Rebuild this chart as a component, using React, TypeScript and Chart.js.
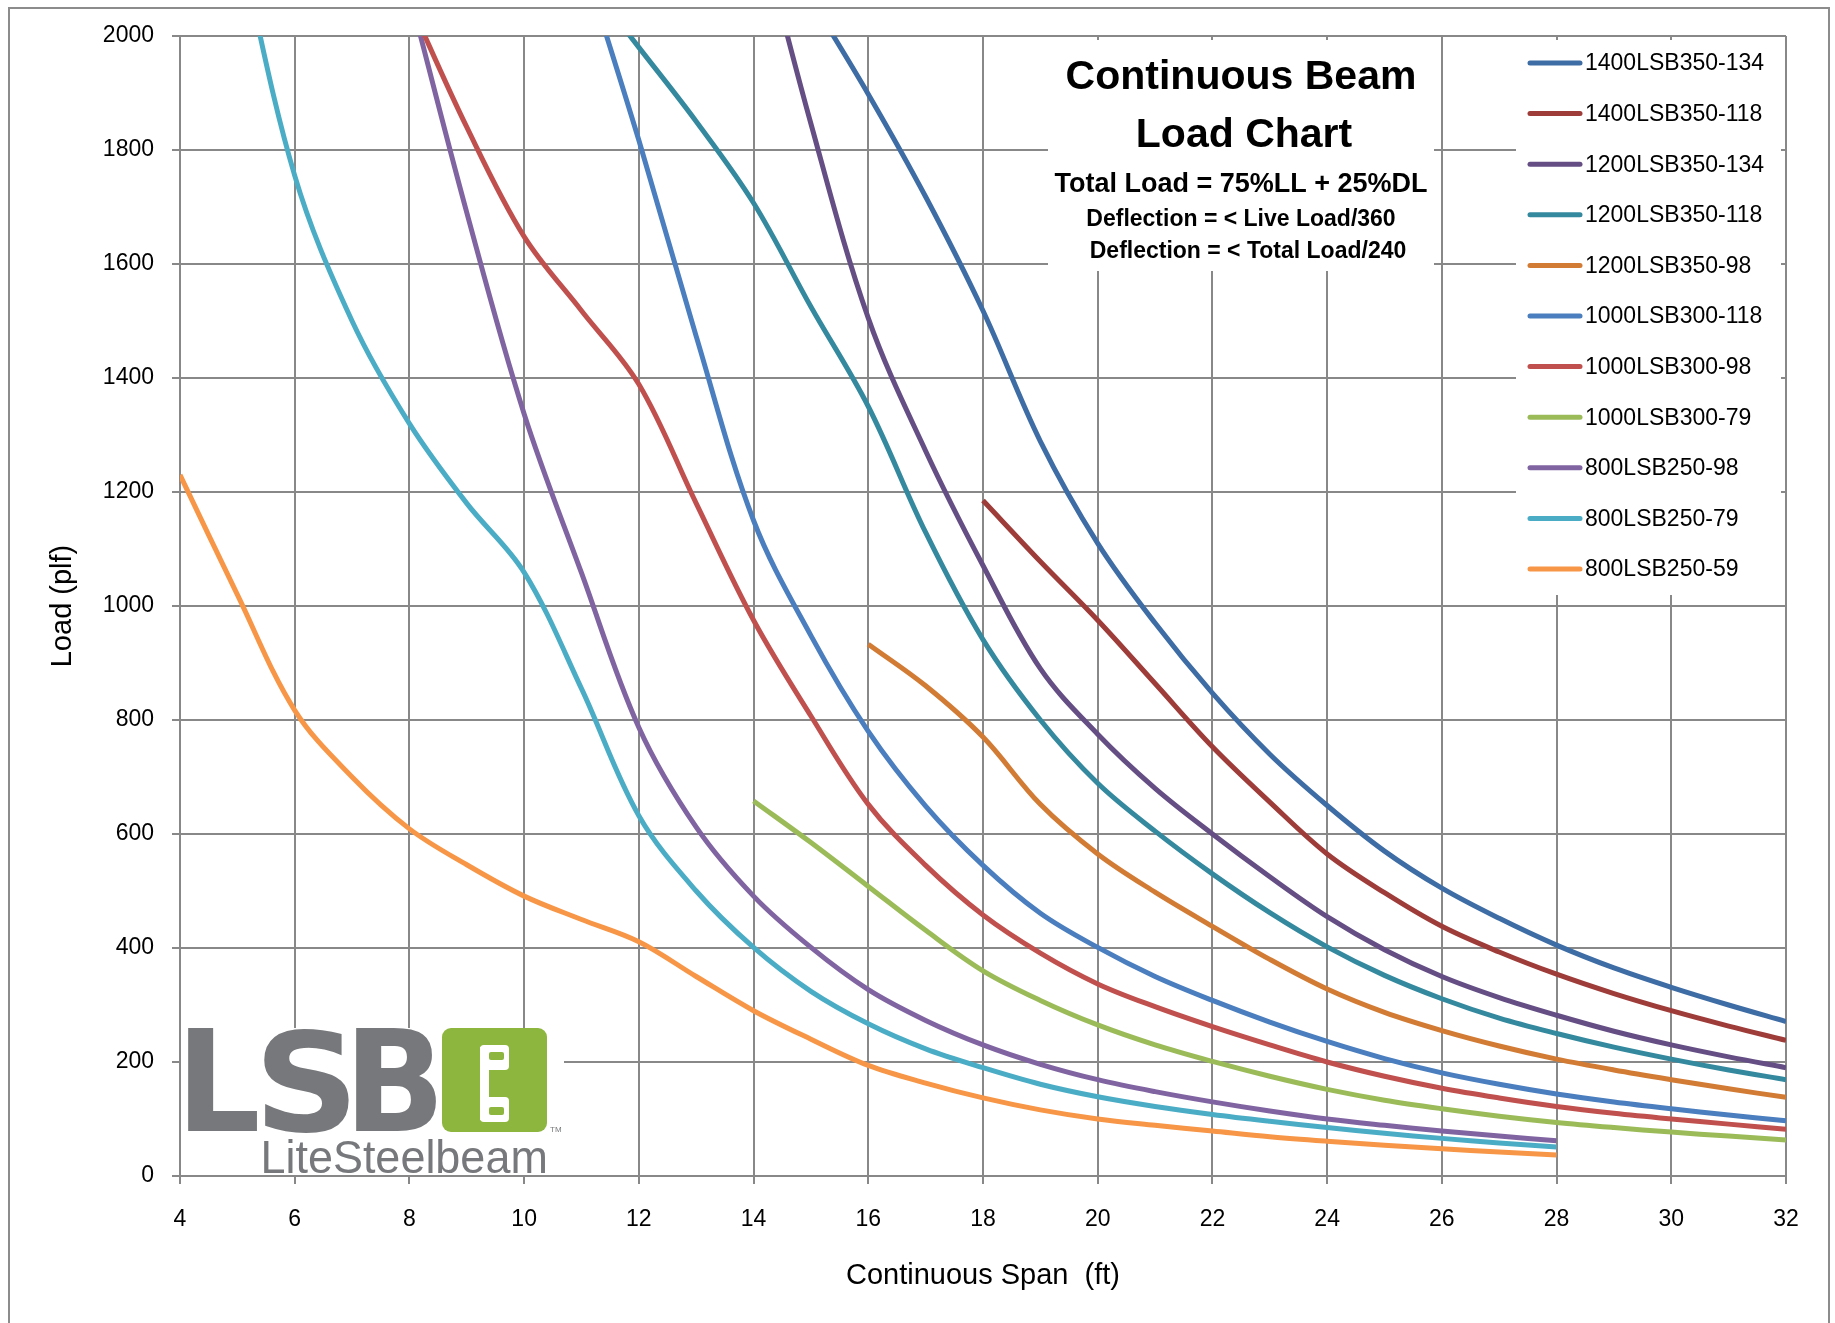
import React, { useEffect, useRef } from "react";
import { Chart, registerables } from "chart.js";

Chart.register(...registerables);

const W = 1835;
const H = 1323;
const FONT = '"Liberation Sans", Arial, sans-serif';
const GRID = "#888888";

// ---- data ----
const seriesNames = [
  "1400LSB350-134",
  "1400LSB350-118",
  "1200LSB350-134",
  "1200LSB350-118",
  "1200LSB350-98",
  "1000LSB300-118",
  "1000LSB300-98",
  "1000LSB300-79",
  "800LSB250-98",
  "800LSB250-79",
  "800LSB250-59",
];
const seriesColors = [
  "#3E6CA4",
  "#9E3C39",
  "#644E84",
  "#34899F",
  "#D27B34",
  "#4A7EBE",
  "#C0504D",
  "#9BBB59",
  "#8064A2",
  "#4BACC6",
  "#F79646",
];
// first span (ft) of each series
const seriesStart = [15, 18, 14, 11, 16, 11, 8, 14, 8, 5, 4];

const v1400_134 = [2065, 1898, 1718, 1518, 1289, 1110, 970, 847, 740, 650, 570, 505, 452, 405, 365, 331, 300, 271];
const v1400_118 = [1185, 1078, 975, 864, 753, 656, 565, 497, 438, 393, 354, 320, 290, 263, 238];
const v1200_134 = [2230, 1846, 1505, 1272, 1071, 890, 775, 680, 600, 525, 455, 397, 350, 313, 282, 254, 230, 209, 190];
const v1200_118 = [2110, 1980, 1850, 1707, 1525, 1350, 1129, 941, 800, 689, 605, 530, 462, 402, 352, 311, 277, 250, 226, 205, 186, 169];
const v1200_98 = [933, 860, 770, 652, 565, 498, 438, 380, 328, 287, 255, 228, 205, 186, 169, 153, 138];
const v1000_118 = [2140, 1817, 1473, 1150, 948, 780, 649, 545, 461, 401, 350, 308, 270, 236, 206, 181, 161, 144, 130, 118, 107, 97];
const v1000_98 = [2060, 1840, 1648, 1518, 1389, 1180, 975, 807, 652, 545, 458, 391, 337, 297, 262, 230, 200, 175, 154, 137, 122, 110, 100, 91, 82];
const v1000_79 = [658, 585, 508, 431, 360, 308, 265, 230, 201, 175, 152, 133, 118, 105, 94, 85, 77, 70, 63];
const v800_98 = [2075, 1690, 1337, 1058, 787, 612, 491, 401, 327, 273, 230, 196, 169, 148, 130, 114, 100, 89, 79, 70, 62];
const v800_79 = [2180, 1755, 1500, 1320, 1180, 1059, 855, 632, 500, 401, 324, 267, 223, 190, 161, 139, 122, 108, 96, 85, 75, 66, 58, 51];
const v800_59 = [1230, 1020, 817, 700, 609, 546, 491, 450, 411, 350, 290, 240, 194, 163, 137, 116, 100, 89, 79, 69, 61, 54, 48, 42, 37];

const seriesValues = [v1400_134, v1400_118, v1200_134, v1200_118, v1200_98, v1000_118, v1000_98, v1000_79, v800_98, v800_79, v800_59];

const xTicks = [4, 6, 8, 10, 12, 14, 16, 18, 20, 22, 24, 26, 28, 30, 32];
const yTicks = [0, 200, 400, 600, 800, 1000, 1200, 1400, 1600, 1800, 2000];
const xTitle = "Continuous Span  (ft)";
const yTitle = "Load (plf)";
const titleLines = ["Continuous Beam", "Load Chart"];
const subtitleLine = "Total Load = 75%LL + 25%DL";
const noteLines = ["Deflection = < Live Load/360", "Deflection = < Total Load/240"];

function fitText(ctx: CanvasRenderingContext2D, text: string, font: string, x0: number, x1: number, yTop: number, yBase: number) {
  ctx.font = font;
  ctx.textAlign = "left";
  ctx.textBaseline = "alphabetic";
  const m = ctx.measureText(text);
  const h = m.actualBoundingBoxAscent;
  const w = m.actualBoundingBoxLeft + m.actualBoundingBoxRight;
  ctx.save();
  ctx.translate(x0, yBase);
  ctx.scale((x1 - x0) / w, (yBase - yTop) / h);
  ctx.fillText(text, m.actualBoundingBoxLeft, 0);
  ctx.restore();
}

const decorPlugin = {
  id: "decor",
  beforeDraw(chart: any) {
    const ctx: CanvasRenderingContext2D = chart.ctx;
    ctx.save();
    ctx.fillStyle = "#ffffff";
    ctx.fillRect(0, 0, W, H);
    ctx.strokeStyle = "#8c8c8c";
    ctx.lineWidth = 2;
    ctx.strokeRect(9, 8, 1820, 1400);
    ctx.restore();
  },
  beforeDatasetsDraw(chart: any) {
    const ctx: CanvasRenderingContext2D = chart.ctx;
    ctx.save();
    // title box
    ctx.fillStyle = "#ffffff";
    ctx.fillRect(1048, 40, 386, 231);
    ctx.fillStyle = "#000000";
    ctx.textAlign = "center";
    ctx.textBaseline = "middle";
    ctx.font = `bold 41px ${FONT}`;
    ctx.fillText(titleLines[0], 1241, 78);
    ctx.fillText(titleLines[1], 1244, 136);
    ctx.font = `bold 27px ${FONT}`;
    ctx.fillText(subtitleLine, 1241, 185);
    ctx.font = `bold 23px ${FONT}`;
    ctx.fillText(noteLines[0], 1241, 220);
    ctx.fillText(noteLines[1], 1248, 252);

    // legend box
    ctx.fillStyle = "#ffffff";
    ctx.fillRect(1516, 40, 265, 555);
    ctx.textAlign = "left";
    ctx.textBaseline = "middle";
    ctx.font = `23px ${FONT}`;
    ctx.lineCap = "round";
    ctx.lineWidth = 5;
    seriesNames.forEach((name, i) => {
      const y = 63 + i * 50.6;
      ctx.strokeStyle = seriesColors[i];
      ctx.beginPath();
      ctx.moveTo(1530, y);
      ctx.lineTo(1580, y);
      ctx.stroke();
      ctx.fillStyle = "#000000";
      ctx.fillText(name, 1585, y + 1);
    });

    // logo
    ctx.fillStyle = "#ffffff";
    ctx.fillRect(181, 1028, 383, 147);
    const gray = "#77787B";
    const green = "#8DB63E";
    ctx.fillStyle = gray;
    const lf = `bold 100px "DejaVu Sans", ${FONT}`;
    fitText(ctx, "L", lf, 188, 257, 1028, 1131);
    fitText(ctx, "S", lf, 264, 349, 1028, 1131);
    fitText(ctx, "B", lf, 356, 437, 1028, 1131);
    ctx.fillStyle = green;
    ctx.beginPath();
    (ctx as any).roundRect(442, 1028, 105, 104, 9);
    ctx.fill();
    ctx.fillStyle = "#ffffff";
    ctx.beginPath();
    (ctx as any).roundRect(480, 1045, 29, 25, 4);
    ctx.fill();
    ctx.beginPath();
    (ctx as any).roundRect(480, 1097, 29, 25, 4);
    ctx.fill();
    ctx.fillRect(480, 1047, 9, 73);
    ctx.fillStyle = green;
    ctx.beginPath();
    (ctx as any).roundRect(489, 1052, 15, 8, 2);
    ctx.fill();
    ctx.beginPath();
    (ctx as any).roundRect(489, 1107, 15, 8, 2);
    ctx.fill();
    ctx.fillStyle = gray;
    ctx.font = `8px ${FONT}`;
    ctx.textAlign = "left";
    ctx.textBaseline = "alphabetic";
    ctx.fillText("TM", 550, 1132);
    fitText(ctx, "LiteSteelbeam", `100px ${FONT}`, 264, 545, 1139, 1173);
    ctx.restore();
  },
};

export default function App() {
  const ref = useRef<HTMLCanvasElement>(null);
  useEffect(() => {
    if (!ref.current) return;
    Chart.defaults.font.family = FONT;
    Chart.defaults.color = "#000000";
    const datasets = seriesNames.map((name, i) => ({
      label: name,
      data: seriesValues[i].map((v, j) => ({ x: seriesStart[i] + j, y: v })),
      borderColor: seriesColors[i],
      backgroundColor: seriesColors[i],
      borderWidth: 5,
      pointRadius: 0,
      pointHoverRadius: 0,
      tension: 0.35,
      fill: false,
    }));
    const chart = new Chart(ref.current, {
      type: "line",
      data: { datasets },
      plugins: [decorPlugin],
      options: {
        animation: false,
        responsive: false,
        devicePixelRatio: 1,
        events: [],
        layout: { padding: { left: 0, top: 36, right: 49, bottom: 0 } },
        plugins: { legend: { display: false }, tooltip: { enabled: false } },
        scales: {
          x: {
            type: "linear",
            min: 4,
            max: 32,
            afterBuildTicks: (s: any) => {
              s.ticks = xTicks.map((v) => ({ value: v }));
            },
            afterFit: (s: any) => {
              s.height = 147;
            },
            ticks: {
              padding: 22,
              font: { size: 23 },
              color: "#000000",
              maxRotation: 0,
              autoSkip: false,
              callback: (v: any) => String(v),
            },
            grid: { color: GRID, lineWidth: 2, tickLength: 8, drawTicks: true },
            border: { color: GRID, width: 2 },
            title: { display: true, text: xTitle, font: { size: 29 }, color: "#000000", padding: { top: 0, bottom: 30 } },
          },
          y: {
            type: "linear",
            min: 0,
            max: 2000,
            afterBuildTicks: (s: any) => {
              s.ticks = yTicks.map((v) => ({ value: v }));
            },
            afterFit: (s: any) => {
              s.width = 180;
            },
            ticks: {
              padding: 18,
              font: { size: 23 },
              color: "#000000",
              callback: (v: any) => String(v),
            },
            grid: { color: GRID, lineWidth: 2, tickLength: 8, drawTicks: true },
            border: { color: GRID, width: 2 },
            title: { display: true, text: yTitle, font: { size: 29 }, color: "#000000", padding: { top: 46, bottom: 0 } },
          },
        },
      } as any,
    });
    return () => chart.destroy();
  }, []);
  return (
    <div style={{ position: "absolute", left: 0, top: 0, width: W, height: H, overflow: "hidden", background: "#fff" }}>
      <canvas ref={ref} width={W} height={H} style={{ display: "block", width: W, height: H }} />
    </div>
  );
}
